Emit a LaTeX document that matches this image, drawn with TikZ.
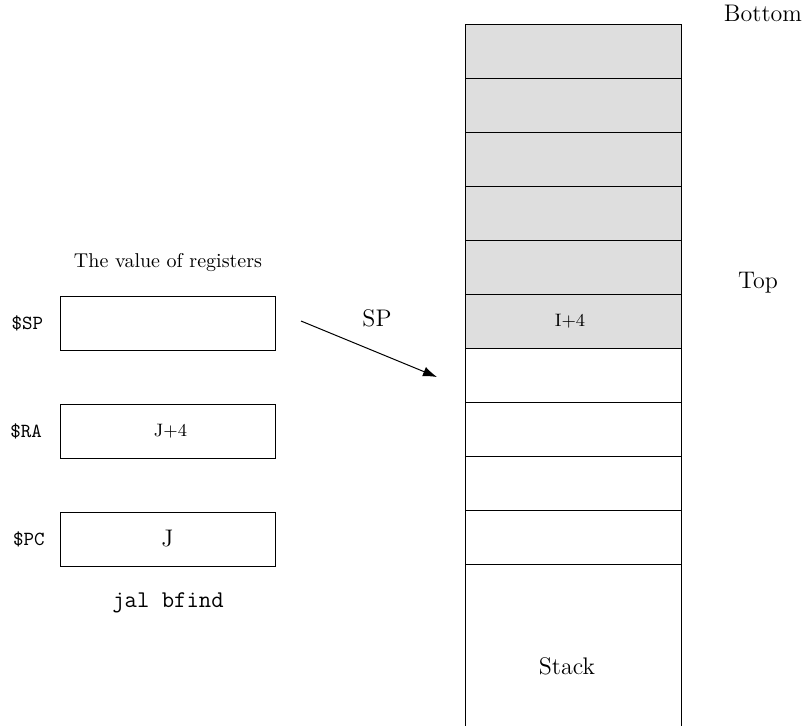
\documentclass[tikz,border=0pt]{standalone}
\usetikzlibrary{arrows.meta}
\definecolor{cellgray}{HTML}{DEDEDE}
\begin{document}
\begin{tikzpicture}[x=0.5pt,y=-0.5pt,
  cell/.style={draw, line width=0.5pt, minimum width=108pt, minimum height=27pt, inner sep=0pt, font=\small},
  used/.style={cell, fill=cellgray},
  reg/.style={draw, line width=0.5pt, minimum width=107.5pt, minimum height=27pt, inner sep=0pt},
  reglabel/.style={font=\normalsize\ttfamily},
  lbl/.style={font=\large}]
\useasboundingbox (0,0) rectangle (809,725);
\node[used] (c1) at (573,51) {};
\node[used] (c2) at (573,105) {};
\node[used] (c3) at (573,159) {};
\node[used] (c4) at (573,213) {};
\node[used] (c5) at (573,267) {};
\node[used] (c6) at (573,321) {\hspace*{-3pt}I+4};
\node[cell] (c7) at (573,375) {};
\node[cell] (c8) at (573,429) {};
\node[cell] (c9) at (573,483) {};
\node[cell] (c10) at (573,537) {};
\draw[line width=0.5pt] (465,564) rectangle (681,790);
\node[lbl] (stack) at (567,666) {Stack};
\node[lbl] (bottom) at (763,13) {Bottom};
\node[lbl] (top) at (758,283) {Top};

\node[font=\normalsize] (title) at (168,262) {The value of registers};
\node[reg] (sp) at (167.5,323) {};
\node[reg] (ra) at (167.5,431) {\hspace*{3pt}\small J+4};
\node[reg] (pc) at (167.5,539) {\large J};
\node[reglabel] (splbl) at (27.5,323) {\$SP};
\node[reglabel] (ralbl) at (26,431) {\$RA};
\node[reglabel] (pclbl) at (29,539) {\$PC};
\node[font=\large\ttfamily] (jal) at (168,603) {jal bfind};

\coordinate (as) at (301,321);
\coordinate (ae) at (437,377);
\draw[-{Latex[length=7pt,width=5pt]}, line width=0.5pt] (as) -- (ae);
\node[lbl] (splabel) at (377,318) {SP};
\end{tikzpicture}
\end{document}
